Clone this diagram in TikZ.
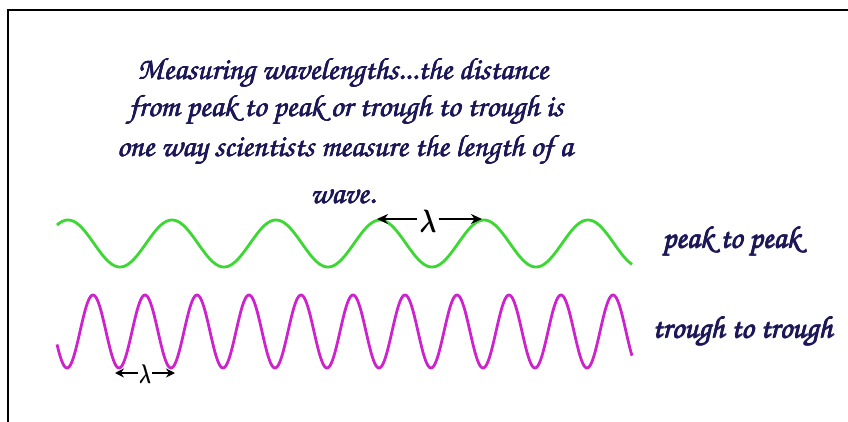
\documentclass[tikz,border=0pt]{standalone}
\usepackage[T1,TU]{fontenc}
\usetikzlibrary{arrows.meta}
\definecolor{navy}{RGB}{28,24,88}
\definecolor{wgreen}{RGB}{60,215,50}
\definecolor{wmag}{RGB}{205,35,205}
\newcommand{\scriptfnt}{\fontencoding{T1}\fontfamily{pzc}\fontseries{mb}\fontshape{it}\selectfont}
\newcommand{\fakebold}[1]{\leavevmode\rlap{#1}\rlap{\raisebox{0.5pt}{#1}}\rlap{\kern0.35pt\raisebox{0.25pt}{#1}}\kern0.7pt#1}
\tikzset{
  title/.style={text=navy,font=\fontsize{31}{31}\scriptfnt,inner sep=0pt,anchor=base},
  lbl/.style={text=navy,font=\fontsize{31}{31}\scriptfnt,inner sep=0pt,anchor=base west},
  lam/.style={inner sep=2pt,font=\fontsize{24}{24}\selectfont},
  lamarrow/.style={-{Stealth[length=11pt,width=10pt]},line width=1.8pt,black},
}
\begin{document}
\begin{tikzpicture}[x=1pt,y=-1pt]
\useasboundingbox (0,0) rectangle (848,422);
\fill[white] (0,0) rectangle (848,422);
\draw[line width=2pt] (8,422) -- (8,10) -- (848,10);
\node[title] (t1) at (343,80) {\fakebold{Measuring wavelengths...the distance}};
\node[title] (t2) at (346,117) {\fakebold{from peak to peak or trough to trough is}};
\node[title] (t3) at (345,157) {\fakebold{one way scientists measure the length of a}};
\node[title] (t4) at (343,204) {\fakebold{wave.}};
\draw[wgreen,line width=2.8pt,domain=57:632,samples=300,smooth] plot (\x,{243.5-23.5*cos((\x-380)/104*360)});
\draw[wmag,line width=2.8pt,domain=57:632,samples=500,smooth] plot (\x,{331.5-36.5*cos((\x-93)/52*360)});
\node[lbl] (pp) at (662,248) {\fakebold{peak to peak}};
\node[lbl] (tt) at (652,338) {\fakebold{trough to trough}};
\coordinate (gl) at (377,219);
\coordinate (gr) at (482,219);
\node[lam] (lg) at (428,221) {\scalebox{1.0}[1.3]{\boldmath$\lambda$}};
\draw[lamarrow] (lg.west |- gl) -- (gl);
\draw[lamarrow] (lg.east |- gr) -- (gr);
\coordinate (ml) at (115,373);
\coordinate (mr) at (175,373);
\node[lam,font=\fontsize{20}{20}\selectfont,inner sep=1pt] (lm) at (145,374) {\scalebox{0.85}[1.3]{\boldmath$\lambda$}};
\draw[lamarrow,-{Stealth[length=9pt,width=9pt]}] (lm.west |- ml) -- (ml);
\draw[lamarrow,-{Stealth[length=9pt,width=9pt]}] (lm.east |- mr) -- (mr);
\end{tikzpicture}
\end{document}
